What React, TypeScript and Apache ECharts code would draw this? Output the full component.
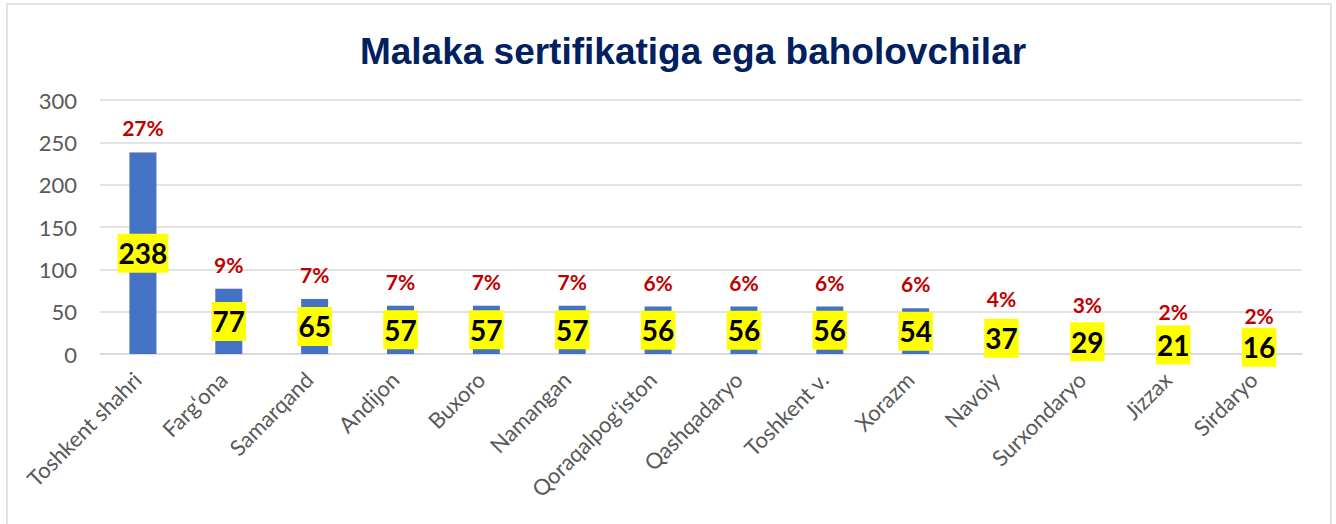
import React, { useEffect, useRef } from "react";
import * as echarts from "echarts";

const categories = [
  "Toshkent shahri",
  "Farg\u2018ona",
  "Samarqand",
  "Andijon",
  "Buxoro",
  "Namangan",
  "Qoraqalpog\u2018iston",
  "Qashqadaryo",
  "Toshkent v.",
  "Xorazm",
  "Navoiy",
  "Surxondaryo",
  "Jizzax",
  "Sirdaryo",
];
const counts = [238, 77, 65, 57, 57, 57, 56, 56, 56, 54, 37, 29, 21, 16];
const sharePercent = [27, 9, 7, 7, 7, 7, 6, 6, 6, 6, 4, 3, 2, 2];
const yTicks = { min: 0, max: 300, interval: 50 };
const title = "Malaka sertifikatiga ega baholovchilar";

export default function App() {
  const ref = useRef<HTMLDivElement>(null);
  useEffect(() => {
    if (!ref.current) return;
    const chart = echarts.init(ref.current, null, { renderer: "svg" });
    chart.setOption({
      animation: false,
      backgroundColor: "#FFFFFF",
      title: {
        text: title,
        left: 688,
        textAlign: "center",
        top: 24,
        textStyle: {
          fontFamily: "Liberation Sans, Arial, sans-serif",
          fontWeight: "bold",
          fontSize: 37,
          lineHeight: 44,
          color: "#002060",
        },
      },
      graphic: [
        {
          type: "rect",
          shape: { x: 7, y: 4, width: 1324, height: 600 },
          style: { fill: "none", stroke: "#D9D9D9", lineWidth: 1.5 },
          silent: true,
        },
      ],
      grid: { left: 100, right: 34, top: 100, bottom: 170, containLabel: false },
      xAxis: {
        type: "category",
        data: categories,
        axisLine: { show: true, lineStyle: { color: "#D9D9D9", width: 1.5 } },
        axisTick: { show: false },
        axisLabel: {
          rotate: 45,
          interval: 0,
          margin: 16,
          padding: [0, 8, 0, 0],
          color: "#595959",
          fontFamily: "Lato, sans-serif",
          fontSize: 22,
        },
      },
      yAxis: {
        type: "value",
        min: yTicks.min,
        max: yTicks.max,
        interval: yTicks.interval,
        axisLine: { show: false },
        axisTick: { show: false },
        splitLine: { lineStyle: { color: "#D9D9D9", width: 1.5 } },
        axisLabel: {
          margin: 23,
          color: "#595959",
          fontFamily: "Lato, sans-serif",
          fontSize: 22,
        },
      },
      series: [
        {
          name: "Baholovchilar",
          type: "bar",
          stack: "total",
          barWidth: 27,
          data: counts,
          itemStyle: { color: "#4472C4" },
          label: {
            show: true,
            position: "inside",
            color: "#000000",
            fontFamily: "Lato, sans-serif",
            fontWeight: "bold",
            fontSize: 28,
            lineHeight: 30,
            backgroundColor: "#FFFF00",
            padding: [5, 1, 4, 1],
          },
        },
        {
          name: "Ulush",
          type: "bar",
          stack: "total",
          barWidth: 27,
          data: sharePercent.map((p) => p / 100),
          itemStyle: { color: "#ED7D31" },
          label: {
            show: true,
            position: "top",
            distance: 14,
            formatter: (p: any) => sharePercent[p.dataIndex] + "%",
            color: "#C00000",
            fontFamily: "Lato, sans-serif",
            fontWeight: "bold",
            fontSize: 21,
          },
        },
      ],
    });
    return () => chart.dispose();
  }, []);
  return (
    <div
      ref={ref}
      style={{ position: "fixed", left: 0, top: 0, width: 1336, height: 524 }}
    />
  );
}
